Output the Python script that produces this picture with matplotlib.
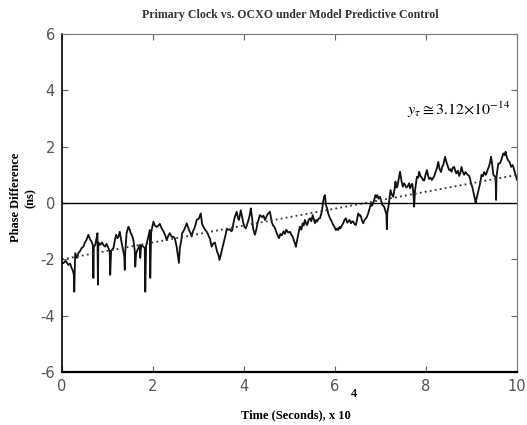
import matplotlib.pyplot as plt

# time in units of 1e4 s, phase difference in ns
t = [0.00, 0.03, 0.08, 0.14, 0.18, 0.21, 0.24, 0.26, 0.27, 0.28, 0.29, 0.33, 0.36, 0.40, 0.43, 0.47,
     0.50, 0.54, 0.58, 0.62, 0.65, 0.68, 0.69, 0.70, 0.73, 0.76, 0.78, 0.79, 0.80, 0.84, 0.88, 0.91,
     0.95, 0.98, 1.02, 1.05, 1.06, 1.08, 1.13, 1.16, 1.19, 1.22, 1.24, 1.27, 1.31, 1.34, 1.37, 1.38,
     1.39, 1.42, 1.46, 1.49, 1.51, 1.54, 1.57, 1.60, 1.61, 1.63, 1.66, 1.69, 1.71, 1.72, 1.74, 1.79,
     1.82, 1.83, 1.85, 1.88, 1.91, 1.93, 1.94, 1.96, 2.01, 2.04, 2.08, 2.12, 2.15, 2.19, 2.23, 2.27,
     2.30, 2.34, 2.37, 2.41, 2.45, 2.48, 2.52, 2.55, 2.57, 2.59, 2.62, 2.64, 2.67, 2.70, 2.74, 2.77,
     2.79, 2.82, 2.85, 2.88, 2.91, 2.94, 2.96, 3.01, 3.05, 3.08, 3.11, 3.14, 3.17, 3.20, 3.23, 3.25,
     3.29, 3.32, 3.36, 3.39, 3.41, 3.44, 3.46, 3.49, 3.51, 3.54, 3.57, 3.60, 3.62, 3.66, 3.69, 3.72,
     3.74, 3.77, 3.80, 3.84, 3.87, 3.89, 3.93, 3.96, 3.98, 4.01, 4.04, 4.07, 4.10, 4.13, 4.15, 4.18,
     4.20, 4.24, 4.27, 4.30, 4.35, 4.40, 4.43, 4.46, 4.49, 4.52, 4.57, 4.61, 4.64, 4.67, 4.72, 4.77,
     4.80, 4.83, 4.87, 4.90, 4.93, 4.97, 5.01, 5.05, 5.07, 5.10, 5.12, 5.14, 5.17, 5.20, 5.23, 5.26,
     5.29, 5.31, 5.34, 5.37, 5.39, 5.42, 5.45, 5.48, 5.51, 5.53, 5.56, 5.59, 5.61, 5.64, 5.67, 5.71,
     5.74, 5.76, 5.78, 5.80, 5.83, 5.85, 5.88, 5.91, 5.94, 5.96, 5.99, 6.02, 6.05, 6.07, 6.10, 6.12,
     6.15, 6.18, 6.21, 6.24, 6.27, 6.29, 6.32, 6.35, 6.38, 6.40, 6.43, 6.46, 6.49, 6.51, 6.54, 6.56,
     6.59, 6.62, 6.65, 6.68, 6.70, 6.73, 6.76, 6.78, 6.81, 6.84, 6.86, 6.89, 6.91, 6.93, 6.96, 6.99,
     7.02, 7.04, 7.08, 7.11, 7.13, 7.14, 7.15, 7.18, 7.20, 7.22, 7.25, 7.28, 7.31, 7.33, 7.35, 7.37,
     7.40, 7.43, 7.46, 7.49, 7.52, 7.54, 7.57, 7.60, 7.63, 7.65, 7.68, 7.70, 7.72, 7.74, 7.76, 7.80,
     7.83, 7.85, 7.88, 7.91, 7.94, 7.96, 7.99, 8.02, 8.05, 8.07, 8.10, 8.13, 8.16, 8.18, 8.21, 8.24,
     8.27, 8.30, 8.33, 8.36, 8.38, 8.42, 8.45, 8.48, 8.51, 8.54, 8.56, 8.59, 8.62, 8.65, 8.67, 8.70,
     8.73, 8.76, 8.78, 8.81, 8.84, 8.87, 8.89, 8.92, 8.95, 8.97, 8.99, 9.02, 9.04, 9.06, 9.08, 9.09,
     9.11, 9.14, 9.16, 9.19, 9.22, 9.25, 9.28, 9.31, 9.33, 9.36, 9.38, 9.41, 9.43, 9.46, 9.48, 9.51,
     9.53, 9.54, 9.55, 9.59, 9.62, 9.65, 9.68, 9.70, 9.73, 9.75, 9.78, 9.81, 9.84, 9.87, 9.90, 9.92,
     9.95, 9.97, 10.00]
phase = [-2.10, -2.14, -2.05, -2.20, -2.15, -2.30, -2.40, -2.55, -3.15, -2.45, -1.78, -1.95, -1.78, -1.70, -1.60, -1.55,
         -1.42, -1.30, -1.13, -1.30, -1.37, -1.50, -2.66, -1.55, -1.49, -1.25, -1.07, -2.90, -1.40, -1.49, -1.40, -1.49,
         -1.55, -1.45, -1.60, -1.73, -2.55, -1.70, -1.60, -1.35, -1.13, -1.25, -1.20, -1.02, -1.40, -1.65, -1.90, -2.37,
         -1.75, -1.07, -0.84, -0.95, -1.07, -1.15, -1.32, -1.70, -2.26, -1.80, -1.66, -1.55, -1.49, -1.95, -1.50, -1.55,
         -1.60, -3.15, -1.50, -1.32, -1.10, -0.96, -2.66, -1.05, -0.66, -0.80, -0.85, -0.80, -0.74, -0.90, -1.00, -1.15,
         -1.32, -1.15, -1.07, -1.20, -1.20, -1.25, -1.55, -1.90, -2.13, -1.60, -1.35, -1.07, -1.00, -0.90, -0.72, -0.85,
         -0.95, -1.05, -1.19, -1.00, -0.90, -0.75, -0.60, -0.55, -0.37, -0.75, -0.85, -0.93, -1.00, -1.07, -1.20, -1.25,
         -1.55, -1.45, -1.40, -1.60, -1.73, -1.85, -2.02, -1.85, -1.70, -1.50, -1.31, -1.10, -0.93, -0.95, -0.93, -1.00,
         -0.98, -0.70, -0.49, -0.31, -0.55, -0.60, -0.26, -0.50, -0.67, -0.85, -0.90, -0.75, -0.60, -0.40, -0.19, -0.55,
         -0.90, -1.13, -0.95, -0.70, -0.43, -0.50, -0.45, -0.60, -0.50, -0.40, -0.31, -0.67, -0.80, -0.85, -1.07, -1.25,
         -1.10, -1.15, -1.00, -1.10, -0.95, -1.05, -1.02, -1.15, -1.19, -1.35, -1.43, -1.55, -1.30, -1.05, -0.84, -0.95,
         -0.72, -0.80, -0.60, -0.75, -0.78, -0.60, -0.54, -0.65, -0.43, -0.55, -0.72, -0.60, -0.66, -0.55, -0.54, -0.31,
         0.05, 0.22, 0.28, -0.07, -0.20, -0.37, -0.50, -0.60, -0.70, -0.78, -0.85, -0.96, -0.90, -0.96, -0.85, -0.90,
         -0.80, -0.72, -0.60, -0.54, -0.70, -0.66, -0.60, -0.72, -0.65, -0.66, -0.75, -0.78, -0.55, -0.37, -0.45, -0.43,
         -0.60, -0.72, -0.60, -0.54, -0.50, -0.37, -0.20, -0.07, -0.10, 0.00, 0.10, 0.28, 0.20, 0.28, 0.15, 0.22,
         0.05, -0.07, -0.13, -0.30, -0.40, -0.93, -0.35, -0.07, 0.20, 0.46, 0.30, 0.22, 0.50, 0.76, 0.55, 0.58,
         0.85, 1.11, 0.80, 0.58, 0.70, 0.64, 0.55, 0.60, 0.70, 0.52, 0.65, 0.68, 0.40, -0.13, 0.45, 0.93,
         0.90, 1.11, 0.95, 0.90, 0.80, 0.80, 1.00, 1.17, 0.95, 0.85, 0.90, 0.82, 0.90, 0.95, 1.10, 1.23,
         1.46, 1.20, 1.10, 1.30, 1.35, 1.64, 1.45, 1.30, 1.17, 1.20, 1.11, 1.25, 1.28, 1.10, 1.05, 1.15,
         0.96, 1.10, 1.28, 1.10, 1.00, 1.10, 1.05, 1.00, 0.96, 0.85, 0.70, 0.55, 0.40, 0.25, 0.11, 0.00,
         0.15, 0.35, 0.50, 0.70, 1.00, 0.95, 1.10, 1.00, 1.05, 1.20, 1.28, 1.45, 1.64, 1.30, 1.00, 0.95,
         0.90, 0.11, 0.95, 1.40, 1.40, 1.50, 1.65, 1.76, 1.70, 1.82, 1.60, 1.50, 1.45, 1.28, 1.35, 1.28,
         1.10, 1.00, 0.82]

# linear fit drawn as dotted line
trend_t = [0, 10]
trend_v = [-2.0, 1.0]

plt.rcParams["axes.unicode_minus"] = False
plt.rcParams["mathtext.fontset"] = "stix"

fig = plt.figure(figsize=(5.27, 4.25), dpi=100)
ax = fig.add_axes([0.1176, 0.1247, 0.8634, 0.7953])

ax.plot(t, phase, color="#111111", lw=1.3)
ax.plot(trend_t, trend_v, color="#333333", lw=1.3, ls=(0, (1, 1.8)))
ax.axhline(0, color="black", lw=1.0)

ax.set_xlim(0, 10)
ax.set_ylim(-6, 6)
ax.set_xticks([0, 2, 4, 6, 8, 10])
ax.set_yticks([-6, -4, -2, 0, 2, 4, 6])
ax.tick_params(direction="in", length=4, top=True, right=True, labelsize=10.5,
               labelcolor="#555555", color="#666666", pad=5)
for s in ["top", "right"]:
    ax.spines[s].set_color("#777777")
ax.spines["left"].set_linewidth(1.2)
ax.spines["bottom"].set_linewidth(1.6)

serif = "Liberation Serif"
fig.text(0.55, 0.965, "Primary Clock vs. OCXO under Model Predictive Control", fontsize=8.6,
         fontweight="bold", family=serif, color="#333333", ha="center", va="center")
fig.text(0.562, 0.022, "Time (Seconds), x 10", fontsize=9, fontweight="bold", family=serif,
         ha="center", va="center")
fig.text(0.665, 0.073, "4", fontsize=9, fontweight="bold", family=serif, va="center")
fig.text(0.03, 0.535, "Phase Difference", rotation=90, fontsize=9, fontweight="bold",
         family=serif, ha="center", va="center")
fig.text(0.058, 0.535, "(ns)", rotation=90, fontsize=9, fontweight="bold",
         family=serif, ha="center", va="center")

ax.text(7.58, 3.12, r"$y_\tau \cong 3.12{\times}10^{-14}$", fontsize=11.5, family=serif)

plt.savefig("out.png", dpi=100)
